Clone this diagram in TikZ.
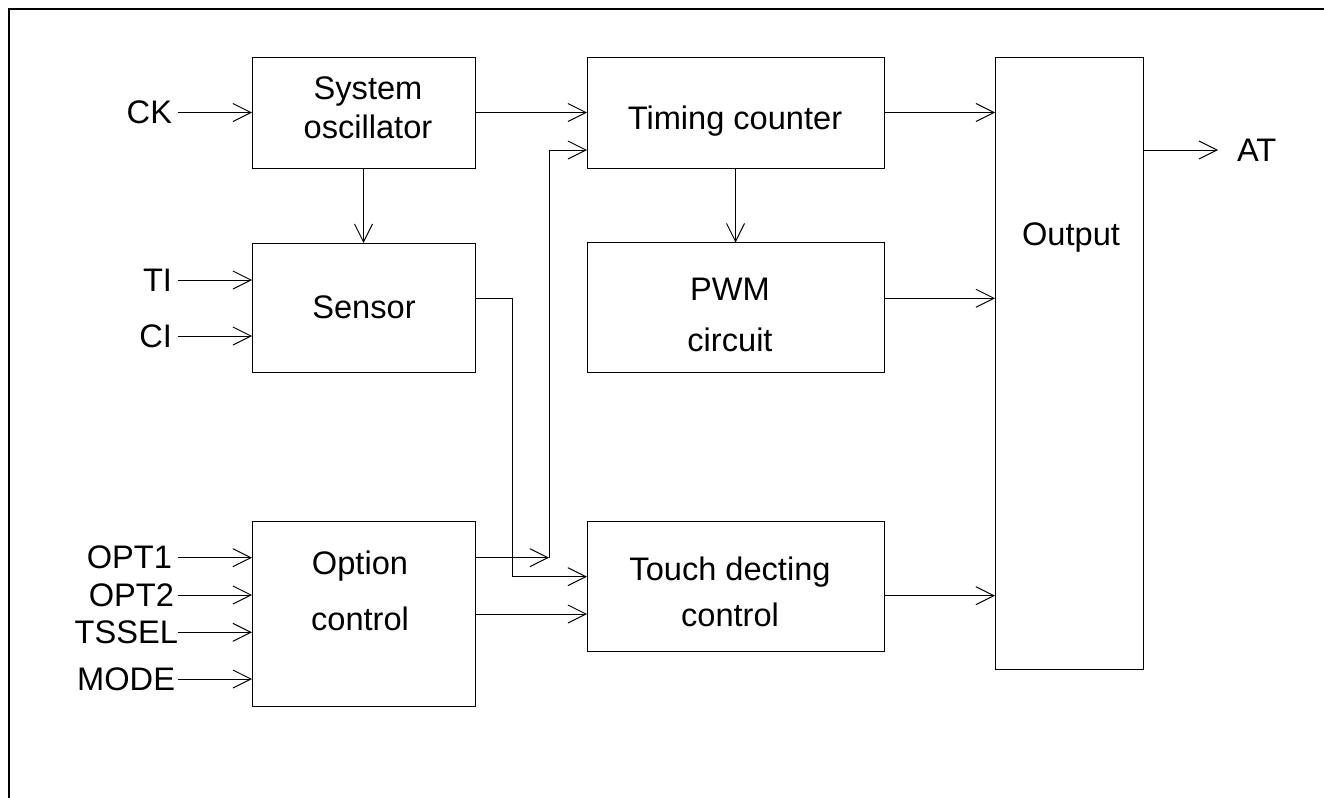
\documentclass[tikz,border=0pt]{standalone}
\usepackage{fontspec}
\setmainfont{Liberation Sans}
\usetikzlibrary{arrows.meta}
\tikzset{
  box/.style={draw, line width=0.5pt, inner sep=0pt, outer sep=0pt},
  txt/.style={inner sep=0pt, outer sep=0pt, align=center, font=\fontsize{16.3}{19}\selectfont},
  lbl/.style={inner xsep=3pt, inner ysep=0pt, outer sep=0pt, anchor=east, font=\fontsize{16.3}{19}\selectfont},
  arr/.style={line width=0.5pt, -{Straight Barb[length=9pt,width=9pt]}},
  wire/.style={line width=0.5pt}
}
\begin{document}
\begin{tikzpicture}[x=0.5pt,y=-0.5pt]
\useasboundingbox (0,0) rectangle (1324,798);
\draw[line width=1pt] (9,805) -- (9,9) -- (1330,9);

% boxes
\node[box, minimum width=111.5pt, minimum height=55.5pt] (osc) at (363.5,112.5) {};
\node[box, minimum width=111.5pt, minimum height=64.5pt] (sensor) at (363.5,307.5) {};
\node[box, minimum width=111.5pt, minimum height=92.5pt] (option) at (363.5,614) {};
\node[box, minimum width=148.5pt, minimum height=55.5pt] (timing) at (735.5,112.5) {};
\node[box, minimum width=148.5pt, minimum height=64.75pt] (pwm) at (735.5,307.25) {};
\node[box, minimum width=148.5pt, minimum height=65pt] (touch) at (735.5,586) {};
\node[box, minimum width=74pt, minimum height=306.25pt] (output) at (1069,363.25) {};

% box texts
\node[txt, font=\fontsize{16.3}{19.65}\selectfont] (osct) at (368,108) {System\\oscillator};
\node[txt, anchor=base] (sensort) at (364,318) {Sensor};
\node[txt, font=\fontsize{16.3}{27.85}\selectfont] (optiont) at (360,590.8) {Option\\control};
\node[txt, anchor=base] (timingt) at (735,129) {Timing counter};
\node[txt, font=\fontsize{16.3}{25.5}\selectfont] (pwmt) at (730,314.8) {PWM\\circuit};
\node[txt, font=\fontsize{16.3}{23.35}\selectfont] (toucht) at (730,591.8) {Touch decting\\control};
\node[txt, anchor=base] (outputt) at (1071,245) {Output};

% input labels
\node[lbl] (ck) at (178,112.5) {CK};
\node[lbl] (ti) at (178,280) {TI};
\node[lbl] (ci) at (178,336) {CI};
\node[lbl] (opt1) at (178,557.7) {OPT1};
\node[lbl, inner xsep=2pt] (opt2) at (178,595) {OPT2};
\node[lbl, inner xsep=0pt] (tssel) at (178,632.3) {TSSEL};
\node[lbl, inner xsep=1.5pt] (mode) at (178,679) {MODE};
\node[inner xsep=9.5pt, inner ysep=0pt, outer sep=0pt, anchor=west, font=\fontsize{16.3}{19}\selectfont] (at) at (1218,150) {AT};

% inputs
\draw[arr] (ck.east) -- (ck.east -| osc.west);
\draw[arr] (ti.east) -- (ti.east -| sensor.west);
\draw[arr] (ci.east) -- (ci.east -| sensor.west);
\draw[arr] (opt1.east) -- (opt1.east -| option.west);
\draw[arr] (opt2.east) -- (opt2.east -| option.west);
\draw[arr] (tssel.east) -- (tssel.east -| option.west);
\draw[arr] (mode.east) -- (mode.east -| option.west);

% internal connectors
\draw[arr] (osc.east) -- (osc.east -| timing.west);
\draw[arr] (osc.south) -- (sensor.north);
\draw[arr] (timing.south) -- (pwm.north);

\coordinate (sout) at ([yshift=4.6pt]sensor.east);
\coordinate (tin2) at ([yshift=4.65pt]touch.west);
\draw[arr] (sout) -- ++(37.7,0) |- (tin2);

\coordinate (oout) at ([yshift=28.15pt]option.east);
\coordinate (j) at ([xshift=37pt]oout);
\coordinate (tin) at ([yshift=-18.75pt]timing.west);
\draw[arr] (oout) -- (j);
\draw[arr] (j) |- (tin);
\draw[arr] (option.east) -- (option.east -| touch.west);

% to output
\draw[arr] (timing.east) -- (timing.east -| output.west);
\draw[arr] ([yshift=4.5pt]pwm.east) -- ([yshift=4.5pt]pwm.east -| output.west);
\draw[arr] ([yshift=-4.85pt]touch.east) -- ([yshift=-4.85pt]touch.east -| output.west);
\draw[arr] (output.east |- at.west) -- (at.west);
\end{tikzpicture}
\end{document}
